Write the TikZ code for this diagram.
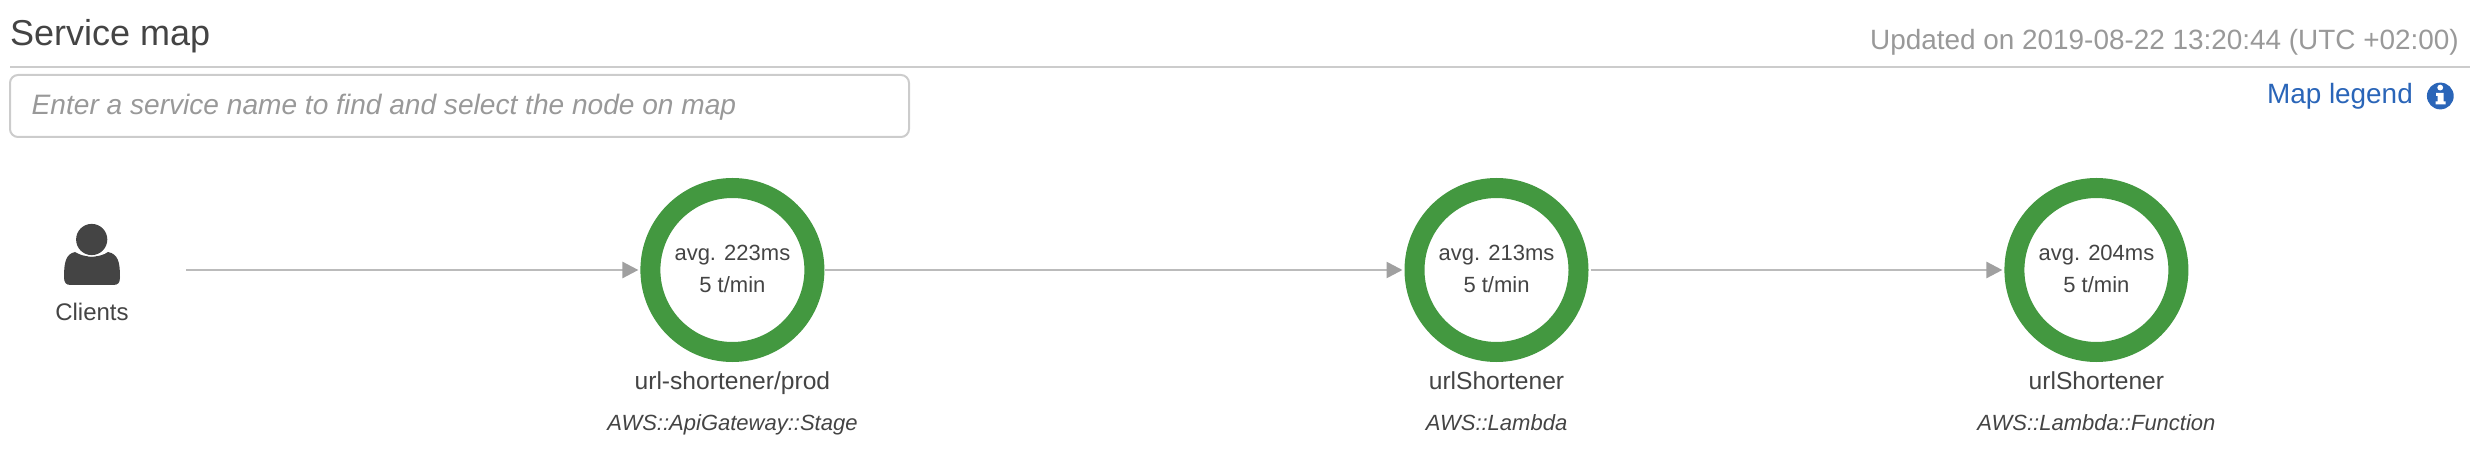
\documentclass[tikz,border=0pt]{standalone}
\usepackage{fontspec}
\setmainfont{Liberation Sans}
\usetikzlibrary{arrows.meta}
\definecolor{ringgreen}{HTML}{439840}
\definecolor{inkdark}{HTML}{444444}
\definecolor{inkgray}{HTML}{999999}
\definecolor{rulegray}{HTML}{CCCCCC}
\definecolor{linegray}{HTML}{BBBBBB}
\definecolor{tipgray}{HTML}{A0A0A0}
\definecolor{linkblue}{HTML}{2A65B8}
\tikzset{
  x=1pt,y=-1pt,
  lbl/.style={anchor=base,inner sep=0pt,outer sep=0pt,text=inkdark},
  ring/.style={circle,draw=ringgreen,line width=20pt,minimum size=164pt,inner sep=0pt,fill=white},
  metric/.style={lbl,font=\fontsize{22}{26}\selectfont},
  svcname/.style={lbl,font=\fontsize{24.6}{28}\selectfont},
  svctype/.style={lbl,font=\fontsize{22}{26}\selectfont\itshape},
  flow/.style={draw=linegray,line width=2.6pt,-{Triangle[length=16pt,width=16pt,color=tipgray]}},
}
\begin{document}
\begin{tikzpicture}
\useasboundingbox (0,0) rectangle (2474,470);
% header
\node[anchor=base west,inner sep=0pt,text=inkdark,font=\fontsize{36}{40}\selectfont] (title) at (10,45.5) {Service map};
\node[anchor=base east,inner sep=0pt,text=inkgray,font=\fontsize{27.9}{32}\selectfont] (updated) at (2459,50) {Updated on 2019-08-22 13:20:44 (UTC +02:00)};
\coordinate (ruleL) at (10,67);
\coordinate (ruleR) at (2470,67);
\draw[rulegray,line width=2pt] (ruleL) -- (ruleR);
\node[draw=rulegray,line width=2pt,rounded corners=8pt,anchor=north west,minimum width=899pt,minimum height=62pt,inner sep=0pt,outer sep=0pt] (search) at (10,75) {};
\node[anchor=base west,inner sep=0pt,text=inkgray,font=\fontsize{28.1}{32}\selectfont\itshape] (hint) at (31.5,115) {Enter a service name to find and select the node on map};
\node[anchor=base east,inner sep=0pt,text=linkblue,font=\fontsize{27.9}{32}\selectfont] (legend) at (2413,104) {Map legend};
% info icon
\fill[linkblue] (2440.3,96) circle (13.4);
\fill[white] (2440.2,87.6) circle (2.9);
\fill[white] (2436,93) -- (2443.5,93) -- (2443.5,101.5) -- (2445.5,101.5) -- (2445.5,104.5) -- (2435.5,104.5) -- (2435.5,101.5) -- (2437.5,101.5) -- (2437.5,96) -- (2436,96) -- cycle;
% clients icon
\fill[inkdark] (64,277) .. controls (64,262) and (66,254) .. (75,252) .. controls (84,258) and (100,258) .. (108,252) .. controls (118,254) and (120,262) .. (120,277) .. controls (120,283) and (118,285) .. (113,285) -- (71,285) .. controls (66,285) and (64,283) .. (64,277) -- cycle;
\fill[white] (91.7,239.5) ellipse (17.2 and 17.2);
\fill[inkdark] (91.7,239.5) ellipse (15.6 and 15.6);
\node[lbl,font=\fontsize{24}{28}\selectfont] (clients) at (92,320) {Clients};
\coordinate (clientsOut) at (186,270);
% service rings
\node[ring] (n1) at (732.4,270) {};
\node[ring] (n2) at (1496.5,270) {};
\node[ring] (n3) at (2096.4,270) {};
\node[metric] (m1a) at (732.4,261) {avg. 223ms};
\node[metric] (m1b) at (732.4,293) {5 t/min};
\node[metric] (m2a) at (1496.5,261) {avg. 213ms};
\node[metric] (m2b) at (1496.5,293) {5 t/min};
\node[metric] (m3a) at (2096.4,261) {avg. 204ms};
\node[metric] (m3b) at (2096.4,293) {5 t/min};
\node[svcname] (s1) at (732.4,389) {url-shortener/prod};
\node[svcname] (s2) at (1496.5,389) {urlShortener};
\node[svcname] (s3) at (2096.4,389) {urlShortener};
\node[svctype] (t1) at (732.4,430) {AWS::ApiGateway::Stage};
\node[svctype] (t2) at (1496.5,430) {AWS::Lambda};
\node[svctype] (t3) at (2096.4,430) {AWS::Lambda::Function};
% connectors
\draw[flow,shorten >=2pt] (clientsOut) -- (n1.west);
\draw[flow,shorten >=2pt,shorten <=1pt] (n1.east) -- (n2.west);
\draw[flow,shorten >=2pt,shorten <=2pt] (n2.east) -- (n3.west);
\end{tikzpicture}
\end{document}
